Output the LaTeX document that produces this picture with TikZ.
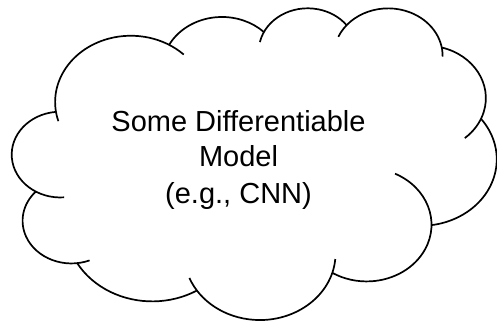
\documentclass[tikz,border=0pt]{standalone}
\usepackage{fontspec}
\setmainfont{Liberation Sans}

\begin{document}
\begin{tikzpicture}[
  x=1pt,
  y=-1pt,
  line join=round,
  cloudline/.style={draw=black,line width=1.7pt},
  modeltext/.style={font=\fontsize{29}{36}\selectfont,align=center,inner sep=0pt}
]
  % Match the original artwork frame.
  \useasboundingbox (0,0) rectangle (497,321);

  % Centres of the elliptical lobes, clockwise from the upper left.
  \coordinate (upperLeftLobe) at (130.86,102.02);
  \coordinate (topLeftLobe) at (221.95,69.40);
  \coordinate (topMidLobe) at (307.71,51.18);
  \coordinate (topRightLobe) at (388.16,55.94);
  \coordinate (upperRightLobe) at (426.05,98.13);
  \coordinate (rightLobe) at (420.76,159.31);
  \coordinate (lowerRightLobe) at (366.64,224.69);
  \coordinate (bottomLobe) at (259.83,253.57);
  \coordinate (bottomLeftLobe) at (152.30,225.34);
  \coordinate (lowerLeftLobe) at (71.48,220.75);
  \coordinate (leftLobe) at (60.42,154.58);

  % Each lobe is one arc; the ends that run on past a neighbour form the inner ticks.
  \draw[cloudline] (upperLeftLobe) ++(163.19:75.72 and 66.29) arc[start angle=163.19,end angle=314.29,x radius=75.72,y radius=66.29];
  \draw[cloudline] (topLeftLobe) ++(207.96:59.80 and 52.42) arc[start angle=207.96,end angle=314.55,x radius=59.80,y radius=52.42];
  \draw[cloudline] (topMidLobe) ++(-167.73:48.94 and 42.88) arc[start angle=-167.73,end angle=-37.33,x radius=48.94,y radius=42.88];
  \draw[cloudline] (topRightLobe) ++(-156.28:54.46 and 47.57) arc[start angle=-156.28,end angle=0.82,x radius=54.46,y radius=47.57];
  \draw[cloudline] (upperRightLobe) ++(-74.77:59.80 and 52.46) arc[start angle=-74.77,end angle=49.63,x radius=59.80,y radius=52.46];
  \draw[cloudline] (rightLobe) ++(-37.53:75.97 and 66.50) arc[start angle=-37.53,end angle=81.86,x radius=75.97,y radius=66.50];
  \draw[cloudline] (lowerRightLobe) ++(-64.03:64.87 and 56.74) arc[start angle=-64.03,end angle=121.98,x radius=64.87,y radius=56.74];
  \draw[cloudline] (bottomLobe) ++(4.74:75.71 and 66.47) arc[start angle=4.74,end angle=158.47,x radius=75.71,y radius=66.47];
  \draw[cloudline] (bottomLeftLobe) ++(58.98:86.56 and 76.05) arc[start angle=58.98,end angle=150.20,x radius=86.56,y radius=76.05];
  \draw[cloudline] (lowerLeftLobe) ++(68.24:48.89 and 42.69) arc[start angle=68.24,end angle=223.11,x radius=48.89,y radius=42.69];
  \draw[cloudline] (leftLobe) ++(85.55:48.72 and 42.88) arc[start angle=85.55,end angle=264.11,x radius=48.72,y radius=42.88];

  % Centred label.
  \node[modeltext] (modelLabel) at (238.5,159.5) {Some Differentiable\\Model\\(e.g., CNN)};
\end{tikzpicture}
\end{document}
